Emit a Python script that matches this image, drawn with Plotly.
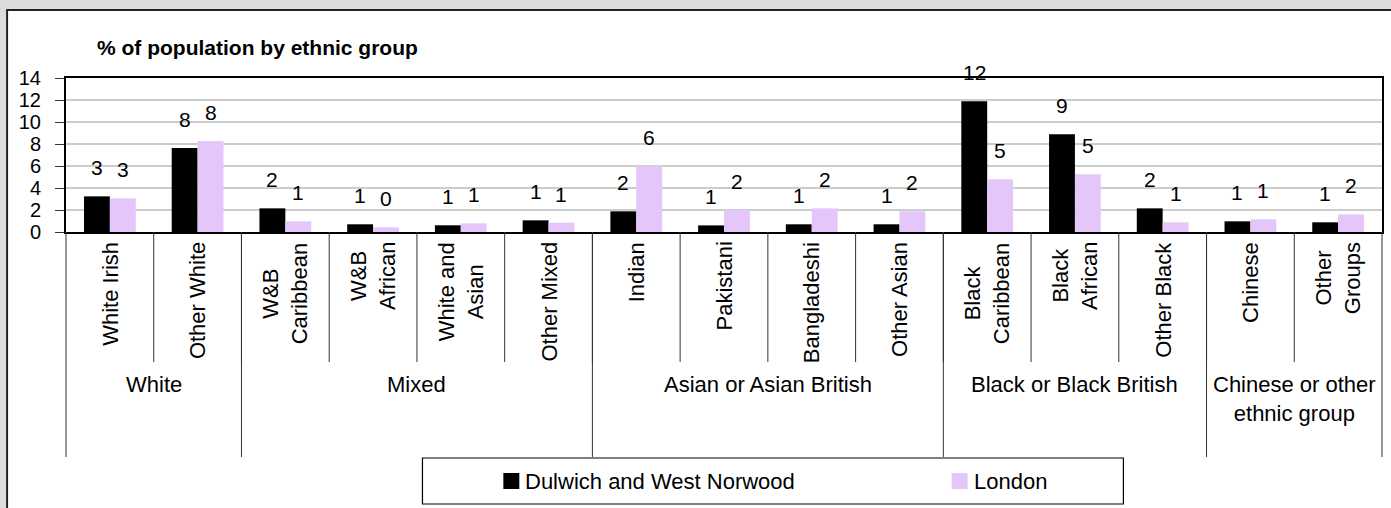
import plotly.graph_objects as go

categories = ["White Irish", "Other White", "W&B Caribbean", "W&B African", "White and Asian",
              "Other Mixed", "Indian", "Pakistani", "Bangladeshi", "Other Asian",
              "Black Caribbean", "Black African", "Other Black", "Chinese", "Other Groups"]
category_labels = ["White Irish", "Other White", "W&B<br>Caribbean", "W&B<br>African",
                   "White and<br>Asian", "Other Mixed", "Indian", "Pakistani", "Bangladeshi",
                   "Other Asian", "Black<br>Caribbean", "Black<br>African", "Other Black",
                   "Chinese", "Other<br>Groups"]
groups = ["White", "Mixed", "Asian or Asian British", "Black or Black British",
          "Chinese or other<br>ethnic group"]
group_sizes = [2, 4, 4, 3, 2]
dulwich = [3.24, 7.64, 2.15, 0.70, 0.61, 1.06, 1.88, 0.60, 0.70, 0.70, 11.88, 8.88, 2.15, 0.97, 0.88]
london = [3.06, 8.27, 0.97, 0.42, 0.79, 0.85, 6.03, 2.00, 2.15, 1.88, 4.79, 5.24, 0.88, 1.15, 1.60]
series_names = ["Dulwich and West Norwood", "London"]
y_ticks = [0, 2, 4, 6, 8, 10, 12, 14]

W, H = 1391, 508
L, R, T, B = 66, 7, 78, 276
plot_w, plot_h = W - L - R, H - T - B
FONT = "Liberation Sans, Arial"
BLACK = "#000000"
LAV = "#e4c6fb"


def px_x(px):
    return (px - L) / plot_w


def px_y(py):
    return (H - B - py) / plot_h


fig = go.Figure()
fig.add_trace(go.Bar(x=categories, y=dulwich, name=series_names[0], marker_color=BLACK,
                     marker_line_width=0, showlegend=False))
fig.add_trace(go.Bar(x=categories, y=london, name=series_names[1], marker_color=LAV,
                     marker_line_width=0, showlegend=False))

ann = []
shapes = []

# outer frame
shapes.append(dict(type="rect", xref="paper", yref="paper", x0=px_x(7), x1=px_x(W + 20),
                   y0=px_y(H + 20), y1=px_y(10), line=dict(color="#222", width=2),
                   fillcolor="white", layer="below"))

# value labels
n = len(categories)
bar_w = plot_w / n * (1 - 0.41) / 2
for i, c in enumerate(categories):
    for vals, sign in ((dulwich, -1), (london, 1)):
        ann.append(dict(x=c, y=vals[i], xref="x", yref="y", text=f"{vals[i]:.0f}",
                        showarrow=False, xshift=sign * bar_w / 2, yanchor="bottom", yshift=15,
                        font=dict(family=FONT, size=21, color="black")))

# rotated category labels
for c, lab in zip(categories, category_labels):
    ann.append(dict(x=c, y=px_y(240), xref="x", yref="paper", text=lab, textangle=-90,
                    showarrow=False, yanchor="top", xanchor="center", align="center",
                    font=dict(family=FONT, size=22, color="black")))

# dividers
for i in range(1, n):
    shapes.append(dict(type="line", xref="paper", yref="paper", x0=i / n, x1=i / n,
                       y0=0, y1=px_y(362), line=dict(color="#333", width=1)))
start = 0
bounds = [0]
for g, size in zip(groups, group_sizes):
    mid = (start + size / 2) / n
    ann.append(dict(x=mid, y=px_y(370), xref="paper", yref="paper", text=g, showarrow=False,
                    yanchor="top", xanchor="center", align="center",
                    font=dict(family=FONT, size=22, color="black")))
    start += size
    bounds.append(start)
for b in bounds:
    shapes.append(dict(type="line", xref="paper", yref="paper", x0=b / n, x1=b / n,
                       y0=0, y1=px_y(457), line=dict(color="#333", width=1)))

# legend box
shapes.append(dict(type="rect", xref="paper", yref="paper", x0=px_x(423), x1=px_x(1125),
                   y0=px_y(504), y1=px_y(458), line=dict(color="black", width=1.2),
                   fillcolor="white"))
for name, color, sx in ((series_names[0], BLACK, 504), (series_names[1], LAV, 953)):
    shapes.append(dict(type="rect", xref="paper", yref="paper", x0=px_x(sx), x1=px_x(sx + 16),
                       y0=px_y(489), y1=px_y(473), line=dict(width=0), fillcolor=color))
    ann.append(dict(x=px_x(sx + 20), y=px_y(481), xref="paper", yref="paper", text=name,
                    showarrow=False, xanchor="left", yanchor="middle",
                    font=dict(family=FONT, size=22, color="black")))

# title
ann.append(dict(x=px_x(95), y=px_y(47), xref="paper", yref="paper",
                text="<b>% of population by ethnic group</b>", showarrow=False,
                xanchor="left", yanchor="middle", font=dict(family=FONT, size=21, color="black")))

fig.update_layout(
    width=W, height=H, margin=dict(l=L, r=R, t=T, b=B),
    paper_bgcolor="#dcdcdc", plot_bgcolor="white",
    barmode="group", bargap=0.41, bargroupgap=0,
    annotations=ann, shapes=shapes, showlegend=False,
    xaxis=dict(showticklabels=False, ticks="", showgrid=False, showline=True, linecolor="black",
               linewidth=2, mirror=True, range=[-0.5, n - 0.5], fixedrange=True),
    yaxis=dict(range=[0, 14], tickvals=y_ticks, ticks="outside", ticklen=9, tickcolor="#333",
               showgrid=True, gridcolor="#cccccc", gridwidth=1.5, showline=True, linecolor="black",
               linewidth=2, mirror=True, zeroline=False, ticklabelstandoff=10,
               tickfont=dict(family=FONT, size=20, color="black"), fixedrange=True),
)

fig.write_html("out.html", config={"displayModeBar": False},
               post_script="document.body.style.margin='0';")
